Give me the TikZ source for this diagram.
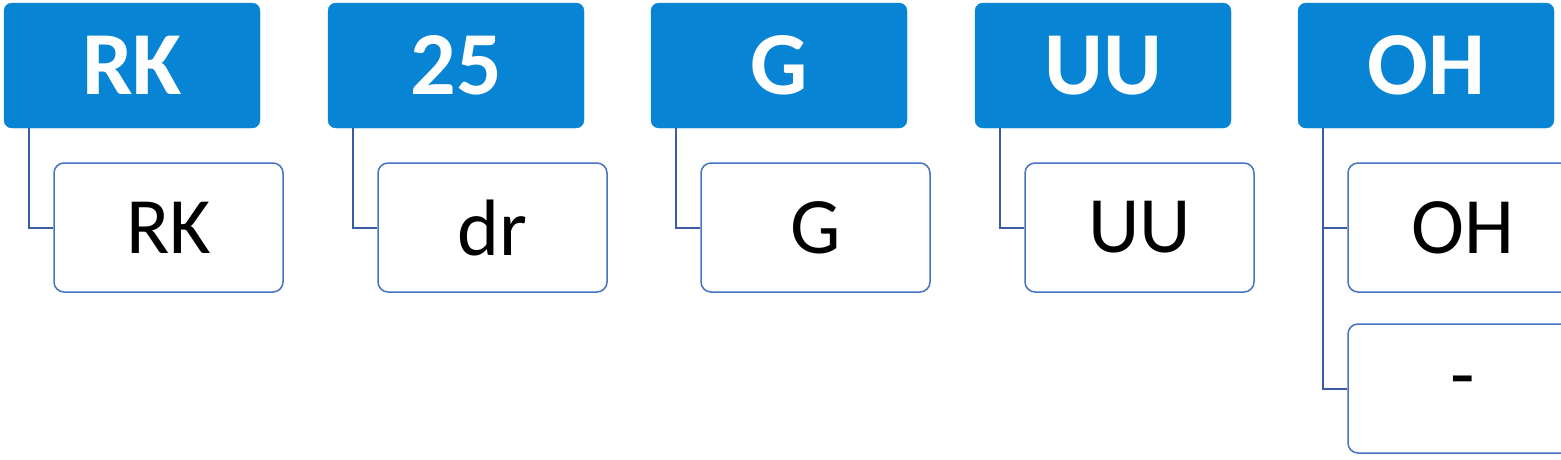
\documentclass[tikz,border=0pt]{standalone}
\usepackage{fontspec}
\setmainfont{Carlito}
\definecolor{hdr}{HTML}{0784D4}
\definecolor{bd}{HTML}{4472C4}
\definecolor{ln}{HTML}{3B5BA5}
\begin{document}
\begin{tikzpicture}[x=1pt,y=-1pt,
 hd/.style={fill=hdr,draw=hdr,rounded corners=8pt,minimum width=256pt,minimum height=125pt,text=white,font=\fontsize{90}{90}\selectfont\bfseries,inner sep=0pt},
 ch/.style={draw=bd,line width=1.5pt,fill=white,rounded corners=10pt,minimum width=229pt,minimum height=129pt,font=\fontsize{80}{80}\selectfont,inner sep=0pt},
 cn/.style={draw=ln,line width=2pt}]
\useasboundingbox (0,0) rectangle (1561,459);
\foreach \i/\h/\c [count=\k] in {4/RK/RK,328/25/dr,651/G/G,975/UU/UU,1298/OH/OH}{
  \node[hd] (h\k) at (\i+128,65.5) {\h};
  \coordinate (s\k) at (\i+25,128);
  \coordinate (b\k) at (\i+25,227.5);
  \node[ch] (c\k) at (\i+50+114.5,227.5) {\c};
  \draw[cn] (s\k) -- (b\k) -- (c\k.west);
}
\node[ch] (c6) at (1298+50+114.5,388.5) {-};
\coordinate (b6) at (1323,388.5);
\draw[cn] (b5) -- (b6) -- (c6.west);
\end{tikzpicture}
\end{document}
